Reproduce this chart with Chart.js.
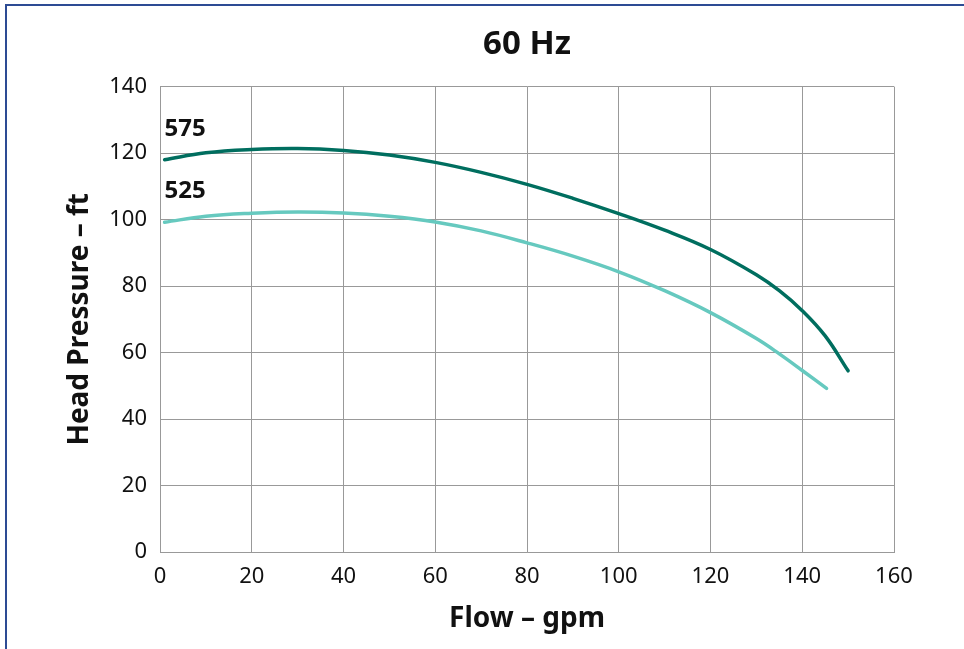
<!DOCTYPE html>
<html>
<head>
<meta charset="utf-8">
<script src="https://cdn.jsdelivr.net/npm/chart.js@4.4.1/dist/chart.umd.min.js"></script>
<style>
  html, body { margin: 0; padding: 0; background: #fff; }
  #wrap { position: relative; width: 964px; height: 649px; }
  #frame { position: absolute; left: 5px; top: 4px; right: -10px; bottom: -10px;
           border-left: 2px solid #2d4b94; border-top: 2px solid #2d4b94; pointer-events: none; }
</style>
</head>
<body>
<div id="wrap">
  <canvas id="pumpChart" width="964" height="649"></canvas>
  <div id="frame"></div>
</div>
<script>
// Flow (gpm) / head (ft)
const flow575 = [1, 10, 20, 30, 40, 50, 60, 70, 80, 90, 100, 110, 120, 130, 135, 140, 145, 150];
const head575 = [118, 120.1, 121.1, 121.4, 120.8, 119.4, 117.2, 114.2, 110.6, 106.4, 101.8, 96.8, 91, 83.4, 78.6, 72.6, 65, 54.5];

const flow525 = [1, 10, 20, 30, 40, 50, 60, 70, 80, 90, 100, 110, 120, 130, 135, 140, 145.3];
const head525 = [99.2, 101, 101.9, 102.3, 102, 101, 99.3, 96.6, 93, 89, 84.3, 78.6, 72, 64.2, 59.6, 54.6, 49.2];

const xTicks = [0, 20, 40, 60, 80, 100, 120, 140, 160];
const yTicks = [0, 20, 40, 60, 80, 100, 120, 140];

const FONT = '"Noto Sans", sans-serif';

const toPoints = (xs, ys) => xs.map((x, i) => ({ x: x, y: ys[i] }));

// curve names written just above each curve near the left edge
const curveLabels = {
  id: 'curveLabels',
  afterDatasetsDraw(chart) {
    const { ctx, scales: { x, y } } = chart;
    ctx.save();
    ctx.font = 'bold 24px ' + FONT;
    ctx.fillStyle = '#111';
    ctx.textBaseline = 'alphabetic';
    ctx.fillText('575', x.getPixelForValue(1), y.getPixelForValue(125.2));
    ctx.fillText('525', x.getPixelForValue(1), y.getPixelForValue(106.6));
    ctx.restore();
  }
};

new Chart(document.getElementById('pumpChart'), {
  type: 'line',
  data: {
    datasets: [
      {
        label: '575',
        data: toPoints(flow575, head575),
        borderColor: '#006e5f',
        borderWidth: 3.5,
        pointRadius: 0,
        tension: 0.4,
        borderCapStyle: 'round'
      },
      {
        label: '525',
        data: toPoints(flow525, head525),
        borderColor: '#66c9bf',
        borderWidth: 3.5,
        pointRadius: 0,
        tension: 0.4,
        borderCapStyle: 'round'
      }
    ]
  },
  options: {
    responsive: false,
    animation: false,
    layout: { padding: { left: 0, right: 70, top: 0, bottom: 0 } },
    plugins: {
      legend: { display: false },
      tooltip: { enabled: false },
      title: {
        display: true,
        text: '60 Hz',
        fullSize: false,
        color: '#111',
        font: { family: FONT, size: 33, weight: 'bold' },
        padding: { top: 25, bottom: 22 }
      }
    },
    scales: {
      x: {
        type: 'linear',
        min: 0,
        max: 160,
        afterBuildTicks: (s) => { s.ticks = xTicks.map(v => ({ value: v })); },
        afterFit: (s) => { s.height = 97; },
        grid: { color: '#999', lineWidth: 1, drawTicks: false },
        border: { color: '#999' },
        ticks: { color: '#111', padding: 12, font: { family: FONT, size: 22 } },
        title: {
          display: true,
          text: 'Flow – gpm',
          color: '#111',
          font: { family: FONT, size: 28, weight: 'bold' },
          padding: { top: 0, bottom: 13 }
        }
      },
      y: {
        min: 0,
        max: 140,
        afterBuildTicks: (s) => { s.ticks = yTicks.map(v => ({ value: v })); },
        afterFit: (s) => { s.width = 160; },
        grid: { color: '#999', lineWidth: 1, drawTicks: false },
        border: { color: '#999' },
        ticks: { color: '#111', padding: 13, font: { family: FONT, size: 22 } },
        title: {
          display: true,
          text: 'Head Pressure – ft',
          color: '#111',
          font: { family: FONT, size: 28, weight: 'bold' },
          padding: { top: 63, bottom: 0 }
        }
      }
    }
  },
  plugins: [curveLabels]
});
</script>
</body>
</html>
